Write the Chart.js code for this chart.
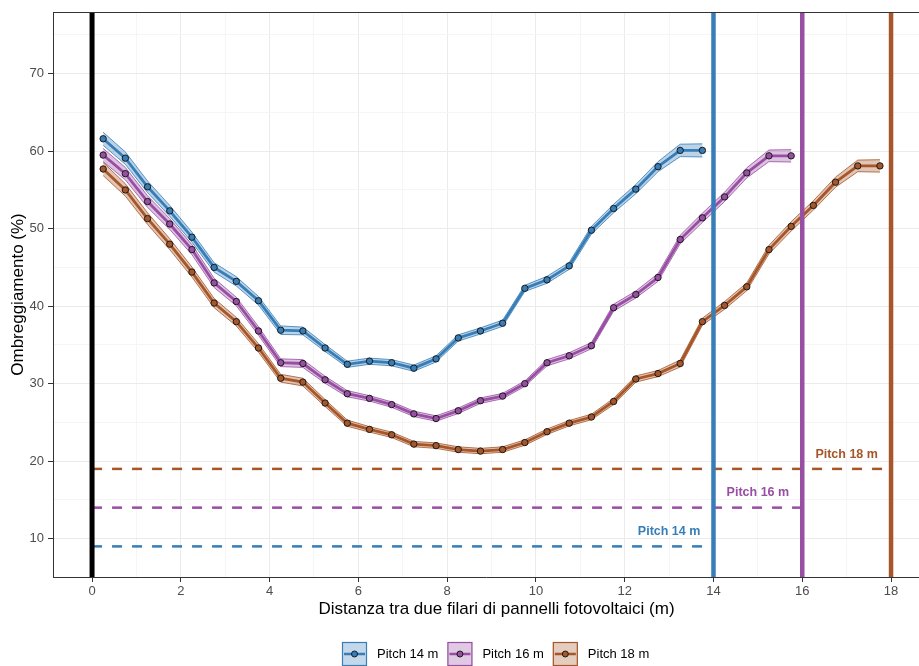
<!DOCTYPE html>
<html lang="it">
<head>
<meta charset="utf-8">
<title>Ombreggiamento</title>
<script src="https://cdn.jsdelivr.net/npm/chart.js@4.4.1/dist/chart.umd.min.js"></script>
<style>
    html, body { margin: 0; padding: 0; background: #ffffff; overflow: hidden; }
    #wrap { position: relative; width: 919px; height: 666px; overflow: hidden; }
    #chart { display: block; }
</style>
</head>
<body>
<div id="wrap"><canvas id="chart"></canvas></div>
<script>
// Distanze dei punti di misura (m)
const distanze = [0.25, 0.75, 1.25, 1.75, 2.25, 2.75, 3.25, 3.75, 4.25, 4.75, 5.25, 5.75,
    6.25, 6.75, 7.25, 7.75, 8.25, 8.75, 9.25, 9.75, 10.25, 10.75, 11.25, 11.75,
    12.25, 12.75, 13.25, 13.75, 14.25, 14.75, 15.25, 15.75, 16.25, 16.75, 17.25, 17.75];

// Ombreggiamento medio (%)
const pitch14 = [61.6, 59.1, 55.4, 52.3, 48.9, 45.0, 43.2, 40.7, 36.9, 36.8, 34.6, 32.5,
    32.9, 32.7, 32.0, 33.2, 35.9, 36.8, 37.8, 42.3, 43.4, 45.2, 49.8, 52.6,
    55.1, 58.0, 60.1, 60.1];
const pitch16 = [59.5, 57.1, 53.5, 50.6, 47.3, 43.0, 40.6, 36.8, 32.7, 32.6, 30.5, 28.7,
    28.1, 27.3, 26.1, 25.5, 26.5, 27.8, 28.4, 30.0, 32.7, 33.6, 34.9, 39.8,
    41.5, 43.7, 48.6, 51.4, 54.1, 57.2, 59.4, 59.4];
const pitch18 = [57.7, 55.0, 51.3, 48.0, 44.4, 40.4, 38.0, 34.6, 30.7, 30.2, 27.5, 24.9,
    24.1, 23.4, 22.2, 22.0, 21.5, 21.3, 21.5, 22.4, 23.8, 24.9, 25.7, 27.7,
    30.6, 31.3, 32.6, 38.0, 40.1, 42.5, 47.3, 50.3, 53.0, 56.0, 58.1, 58.1];

// Semi-ampiezza della banda (%)
const banda14 = [0.85, 0.8, 0.75, 0.7, 0.65, 0.6, 0.6, 0.55, 0.55, 0.5, 0.45, 0.4,
    0.4, 0.4, 0.4, 0.4, 0.4, 0.4, 0.4, 0.4, 0.45, 0.45, 0.5, 0.55,
    0.6, 0.65, 0.8, 0.85];
const banda16 = [0.85, 0.8, 0.75, 0.7, 0.65, 0.6, 0.55, 0.55, 0.5, 0.5, 0.45, 0.4,
    0.35, 0.35, 0.35, 0.35, 0.35, 0.35, 0.35, 0.35, 0.4, 0.4, 0.4, 0.45,
    0.45, 0.5, 0.55, 0.6, 0.6, 0.65, 0.75, 0.8];
const banda18 = [0.85, 0.8, 0.75, 0.7, 0.65, 0.6, 0.55, 0.55, 0.5, 0.5, 0.45, 0.4,
    0.35, 0.35, 0.35, 0.35, 0.35, 0.35, 0.35, 0.35, 0.35, 0.35, 0.35, 0.4,
    0.4, 0.4, 0.45, 0.45, 0.5, 0.5, 0.55, 0.6, 0.6, 0.65, 0.75, 0.8];

// Pitch (linee verticali) e soglie (linee tratteggiate)
const pitchLabels = ['Pitch 14 m', 'Pitch 16 m', 'Pitch 18 m'];
const pitchValori = [14, 16, 18];
const soglie = [9, 14, 19];

// Griglia e etichette degli assi
const xGriglia = [0, 1, 2, 3, 4, 5, 6, 7, 8, 9, 10, 11, 12, 13, 14, 15, 16, 17, 18];
const xEtichette = [0, 2, 4, 6, 8, 10, 12, 14, 16, 18];
const yGriglia = [10, 15, 20, 25, 30, 35, 40, 45, 50, 55, 60, 65, 70, 75];
const yEtichette = [10, 20, 30, 40, 50, 60, 70];

const xTitolo = 'Distanza tra due filari di pannelli fotovoltaici (m)';
const yTitolo = 'Ombreggiamento (%)';

const colori = ['#377EB8', '#984EA3', '#A65628'];
const FONT = '"Liberation Sans", Arial, sans-serif';
// Il pannello originale continua oltre il bordo destro dell'immagine
const PANNELLO_DESTRA = 940;

function rgba(hex, a) {
    const n = parseInt(hex.slice(1), 16);
    return `rgba(${(n >> 16) & 255}, ${(n >> 8) & 255}, ${n & 255}, ${a})`;
}

const serie = [
    { label: pitchLabels[0], valori: pitch14, banda: banda14, colore: colori[0] },
    { label: pitchLabels[1], valori: pitch16, banda: banda16, colore: colori[1] },
    { label: pitchLabels[2], valori: pitch18, banda: banda18, colore: colori[2] }
];

const Y_MIN = 5.05, Y_MAX = 77.96;

const datasets = [];

// Bande e linee principali
serie.forEach(s => {
    const sopra = s.valori.map((v, i) => ({ x: distanze[i], y: v + s.banda[i] }));
    const sotto = s.valori.map((v, i) => ({ x: distanze[i], y: v - s.banda[i] }));
    const punti = s.valori.map((v, i) => ({ x: distanze[i], y: v }));
    datasets.push({
        data: sopra, borderColor: rgba(s.colore, 0.8), borderWidth: 1,
        backgroundColor: rgba(s.colore, 0.34), fill: '+1', pointRadius: 0, order: 3
    });
    datasets.push({
        data: sotto, borderColor: rgba(s.colore, 0.8), borderWidth: 1,
        fill: false, pointRadius: 0, order: 3
    });
    datasets.push({
        data: punti, borderColor: s.colore, borderWidth: 2.8, fill: false,
        pointRadius: 3.2, pointBackgroundColor: s.colore, pointBorderColor: '#1a1a1a',
        pointBorderWidth: 1, order: 1
    });
});

// Soglie tratteggiate
soglie.forEach((v, i) => {
    datasets.push({
        data: [{ x: 0, y: v }, { x: pitchValori[i], y: v }],
        borderColor: colori[i], borderWidth: 2.5, borderDash: [10, 10],
        pointRadius: 0, fill: false, order: 4
    });
});

// Linee verticali
pitchValori.forEach((p, i) => {
    datasets.push({
        data: [{ x: p, y: Y_MIN }, { x: p, y: Y_MAX }],
        borderColor: colori[i], borderWidth: 4.5, pointRadius: 0, fill: false, order: 0
    });
});
datasets.push({
    data: [{ x: 0, y: Y_MIN }, { x: 0, y: Y_MAX }],
    borderColor: '#000000', borderWidth: 5, pointRadius: 0, fill: false, order: 0
});

// Bordo superiore, etichette dei pitch, titolo asse x e legenda
const decorazioni = {
    id: 'decorazioni',
    afterDatasetsDraw(chart) {
        const { ctx, chartArea, scales } = chart;
        ctx.save();
        ctx.font = `bold 12.5px ${FONT}`;
        ctx.textAlign = 'center';
        ctx.textBaseline = 'middle';
        soglie.forEach((v, i) => {
            ctx.fillStyle = colori[i];
            ctx.fillText(pitchLabels[i],
                scales.x.getPixelForValue(pitchValori[i] - 1),
                scales.y.getPixelForValue(v + 1.9));
        });
        ctx.strokeStyle = '#333333';
        ctx.lineWidth = 1;
        ctx.beginPath();
        ctx.moveTo(chartArea.left, chartArea.top + 0.5);
        ctx.lineTo(chartArea.right, chartArea.top + 0.5);
        ctx.stroke();
        ctx.restore();
    },
    afterDraw(chart) {
        const { ctx, chartArea } = chart;
        ctx.save();
        // titolo asse x, centrato sul pannello intero
        ctx.font = `17px ${FONT}`;
        ctx.fillStyle = '#000000';
        ctx.textAlign = 'center';
        ctx.textBaseline = 'middle';
        ctx.fillText(xTitolo, (chartArea.left + PANNELLO_DESTRA) / 2, chartArea.bottom + 32);

        // legenda
        ctx.font = `13px ${FONT}`;
        ctx.textAlign = 'left';
        let x = 342;
        const cy = 654;
        serie.forEach(s => {
            ctx.fillStyle = rgba(s.colore, 0.3);
            ctx.fillRect(x, cy - 12, 25, 24);
            ctx.strokeStyle = s.colore;
            ctx.lineWidth = 1.2;
            ctx.strokeRect(x + 0.5, cy - 11.5, 24, 23);
            ctx.lineWidth = 2.5;
            ctx.beginPath();
            ctx.moveTo(x + 2, cy);
            ctx.lineTo(x + 23, cy);
            ctx.stroke();
            ctx.beginPath();
            ctx.arc(x + 12.5, cy, 3, 0, Math.PI * 2);
            ctx.fillStyle = s.colore;
            ctx.fill();
            ctx.lineWidth = 1;
            ctx.strokeStyle = '#1a1a1a';
            ctx.stroke();
            ctx.fillStyle = '#000000';
            ctx.fillText(s.label, x + 35, cy);
            x += 35 + ctx.measureText(s.label).width + 9;
        });
        ctx.restore();
    }
};

const grigliaColore = (ctx, major) =>
    ctx.tick && major.includes(ctx.tick.value) ? '#EBEBEB' : '#F5F5F5';
const tickColore = (ctx, major) =>
    ctx.tick && major.includes(ctx.tick.value) ? '#333333' : 'rgba(0,0,0,0)';

new Chart(document.getElementById('chart'), {
    type: 'line',
    data: { datasets },
    plugins: [decorazioni],
    options: {
        responsive: true,
        maintainAspectRatio: false,
        animation: false,
        layout: { autoPadding: false, padding: { left: 0, top: 12, right: 0, bottom: 44 } },
        elements: { line: { tension: 0 } },
        plugins: {
            legend: { display: false },
            tooltip: { enabled: false }
        },
        scales: {
            x: {
                type: 'linear',
                min: -0.88,
                max: 18.63,
                afterBuildTicks: s => { s.ticks = xGriglia.map(v => ({ value: v })); },
                afterFit: s => { s.height = 45; s.paddingLeft = 0; s.paddingRight = 0; },
                ticks: {
                    autoSkip: false, maxRotation: 0, padding: 2,
                    color: '#4D4D4D', font: { family: FONT, size: 13 },
                    callback: v => xEtichette.includes(v) ? String(v) : ''
                },
                grid: {
                    color: c => grigliaColore(c, xEtichette),
                    tickColor: c => tickColore(c, xEtichette),
                    tickLength: 5, lineWidth: 1
                },
                border: { display: true, color: '#333333', width: 1 },
                title: { display: false }
            },
            y: {
                type: 'linear',
                min: Y_MIN,
                max: Y_MAX,
                afterBuildTicks: s => { s.ticks = yGriglia.map(v => ({ value: v })); },
                afterFit: s => { s.width = 53; },
                ticks: {
                    autoSkip: false, padding: 4,
                    color: '#4D4D4D', font: { family: FONT, size: 13 },
                    callback: v => yEtichette.includes(v) ? String(v) : ''
                },
                grid: {
                    color: c => grigliaColore(c, yEtichette),
                    tickColor: c => tickColore(c, yEtichette),
                    tickLength: 5, lineWidth: 1
                },
                border: { display: true, color: '#333333', width: 1 },
                title: {
                    display: true,
                    text: yTitolo,
                    color: '#000000', font: { family: FONT, size: 17 },
                    padding: { top: 8, bottom: 0 }
                }
            }
        }
    }
});
</script>
</body>
</html>
